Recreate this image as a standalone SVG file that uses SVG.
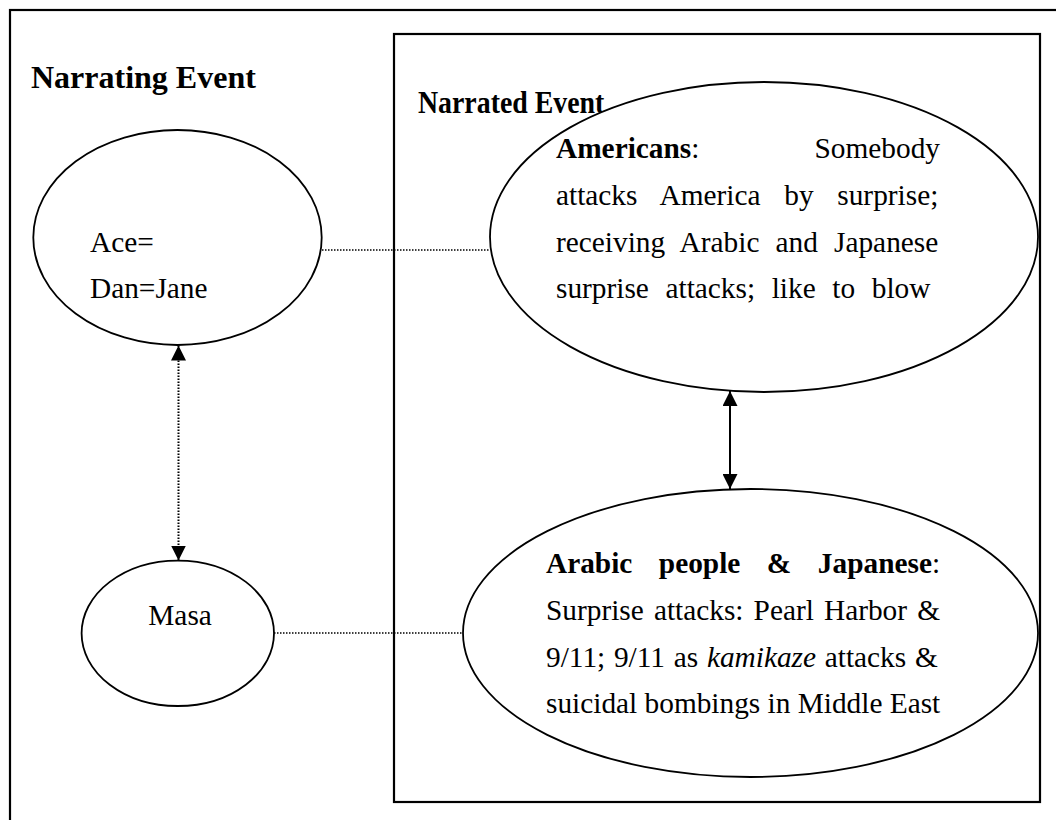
<svg xmlns="http://www.w3.org/2000/svg" width="1056" height="820" viewBox="0 0 1056 820">
  <style>
    .frame { fill: none; stroke: #000; stroke-width: 2.2; }
    .node { fill: #fff; stroke: #000; stroke-width: 1.8; }
    .title { font-family: "Liberation Serif", "Times New Roman", serif; font-size: 32px; font-weight: bold; fill: #000; }
    .label { font-family: "Liberation Serif", "Times New Roman", serif; font-size: 29.33px; fill: #000; }
    .b { font-weight: bold; }
    .i { font-style: italic; }
    .dotted { fill: none; stroke: #000; stroke-width: 1.4; stroke-dasharray: 1.5 1.5; }
    .dotted-v { fill: none; stroke: #000; stroke-width: 2; stroke-dasharray: 1.5 1.5; }
    .solid { fill: none; stroke: #000; stroke-width: 2; }
  </style>
  <defs>
    <marker id="head" viewBox="0 0 10 10" refX="10" refY="5" markerUnits="userSpaceOnUse" markerWidth="15" markerHeight="15" orient="auto-start-reverse">
      <path d="M0,0 L10,5 L0,10 z" fill="#000"/>
    </marker>
  </defs>

  <rect width="1056" height="820" fill="#fff"/>

  <!-- outer frame: the narrating event -->
  <g id="narrating-event">
    <rect class="frame" x="10" y="10" width="1070" height="840"/>
    <text class="title" x="31" y="88">Narrating Event</text>
  </g>

  <!-- inner frame: the narrated event; its heading is set slightly condensed -->
  <g id="narrated-event">
    <rect class="frame" x="394" y="34" width="646" height="768"/>
    <text class="title" transform="translate(418 113) scale(0.87 1)">Narrated Event</text>
  </g>

  <!-- connectors -->
  <g id="connectors">
    <line class="dotted" x1="322" y1="250" x2="490" y2="250"/>
    <line class="dotted" x1="274" y1="633" x2="463" y2="633"/>
    <line class="dotted-v" x1="178.5" y1="345.5" x2="178.5" y2="560.5" marker-start="url(#head)" marker-end="url(#head)"/>
    <line class="solid" x1="730" y1="391" x2="730" y2="489" marker-start="url(#head)" marker-end="url(#head)"/>
  </g>

  <g id="node-ace">
    <ellipse class="node" cx="177.5" cy="237.5" rx="144.2" ry="107.5"/>
    <text class="label" x="90" y="251.7">Ace=</text>
    <text class="label" x="90" y="298.3">Dan=Jane</text>
  </g>

  <g id="node-masa">
    <ellipse class="node" cx="177.8" cy="633.3" rx="96.2" ry="72.7"/>
    <text class="label" x="148.3" y="625">Masa</text>
  </g>

  <g id="node-americans">
    <ellipse class="node" cx="764" cy="237" rx="274" ry="155"/>
    <text class="label" x="556" y="158.3"><tspan class="b">Americans</tspan>:</text>
    <text class="label" x="940" y="158.3" text-anchor="end">Somebody</text>
    <text class="label" x="556" y="205" word-spacing="16.4">attacks America by surprise;</text>
    <text class="label" x="556" y="251.7" word-spacing="8.8">receiving Arabic and Japanese</text>
    <text class="label" x="556" y="298.3" word-spacing="9.3">surprise attacks; like to blow</text>
  </g>

  <g id="node-arabic">
    <ellipse class="node" cx="750.5" cy="633" rx="287.5" ry="144"/>
    <text class="label" x="546" y="573.3" word-spacing="19.2"><tspan class="b">Arabic people &amp; Japanese</tspan>:</text>
    <text class="label" x="546" y="620" word-spacing="2.8">Surprise attacks: Pearl Harbor &amp;</text>
    <text class="label" x="546" y="666.7" word-spacing="1.4">9/11; 9/11 as <tspan class="i">kamikaze</tspan> attacks &amp;</text>
    <text class="label" x="546" y="713.3">suicidal bombings in Middle East</text>
  </g>
</svg>
